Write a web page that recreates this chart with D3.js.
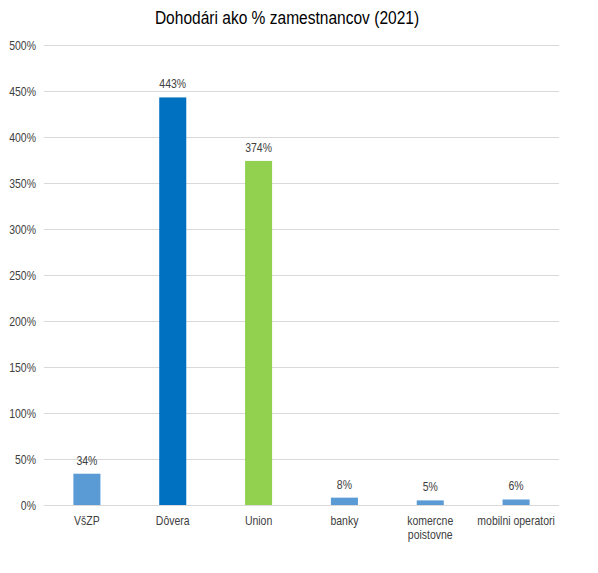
<!DOCTYPE html>
<html><head><meta charset="utf-8">
<script src="https://cdn.jsdelivr.net/npm/d3@7"></script>
<style>body{margin:0;background:#fff}svg{display:block}</style>
</head><body>
<script>
const categories = ["VšZP", "Dôvera", "Union", "banky", "komercne\npoistovne", "mobilni operatori"];
const values = [34, 443, 374, 8, 5, 6];
const colors = ["#5B9BD5", "#0070C0", "#92D050", "#5B9BD5", "#5B9BD5", "#5B9BD5"];
const yTicks = [0, 50, 100, 150, 200, 250, 300, 350, 400, 450, 500];
const title = "Dohodári ako % zamestnancov (2021)";

const W = 598, H = 573;
const m = {left: 44, right: 39, top: 45, bottom: 68};
const font = "'Liberation Sans', Arial, sans-serif";
const SX = 0.84;

const svg = d3.select("body").append("svg").attr("width", W).attr("height", H);

const x = d3.scaleBand().domain(categories).range([m.left, W - m.right]).paddingInner(0.685).paddingOuter(0.3425);
const y = d3.scaleLinear().domain([0, 500]).range([H - m.bottom, m.top]);

function label(g, px, py, anchor, size, fill, lines, sx) {
  const t = g.append("text")
    .attr("transform", `translate(${px},${py}) scale(${sx},1)`)
    .attr("text-anchor", anchor)
    .attr("font-family", font).attr("font-size", size).attr("fill", fill);
  lines.forEach((line, i) => t.append("tspan").attr("x", 0).attr("dy", i === 0 ? 0 : 14).text(line));
  return t;
}

// gridlines
svg.append("g").selectAll("line").data(yTicks).join("line")
  .attr("x1", m.left).attr("x2", W - m.right)
  .attr("y1", d => y(d) + 0.5).attr("y2", d => y(d) + 0.5)
  .attr("stroke", "#d9d9d9").attr("stroke-width", 1);

// y axis labels
const ya = svg.append("g");
yTicks.forEach(t => label(ya, 36, y(t) + 4.5, "end", 12.5, "#404040", [t + "%"], SX));

// bars
svg.append("g").selectAll("rect").data(values).join("rect")
  .attr("x", (d, i) => x(categories[i]))
  .attr("width", x.bandwidth())
  .attr("y", d => y(d))
  .attr("height", d => y(0) - y(d))
  .attr("fill", (d, i) => colors[i]);

// data labels
const dl = svg.append("g");
values.forEach((v, i) => label(dl, x(categories[i]) + x.bandwidth() / 2, y(v) - 9, "middle", 12.5, "#404040", [v + "%"], SX));

// x labels
const xa = svg.append("g");
categories.forEach(c => label(xa, x(c) + x.bandwidth() / 2, y(0) + 20, "middle", 12.5, "#404040", c.split("\n"), SX));

// title
label(svg, 287, 24, "middle", 18.5, "#000", [title], 0.84);
</script>
</body></html>
